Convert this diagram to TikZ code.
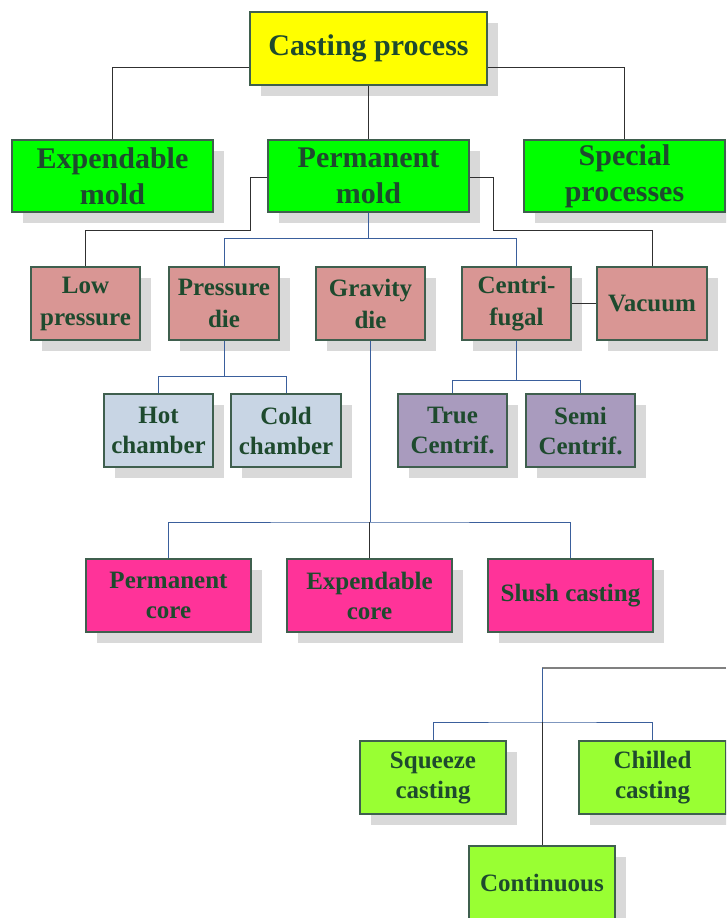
\documentclass[tikz,border=0pt]{standalone}
\usepackage{fontspec}
\setmainfont{Liberation Serif}
\usetikzlibrary{shadows}
\definecolor{txtgreen}{HTML}{1E4A2E}
\definecolor{bordc}{HTML}{3F5F4E}
\definecolor{shgray}{HTML}{D9D9D9}
\definecolor{cyel}{HTML}{FFFF00}
\definecolor{cgreen}{HTML}{00FF00}
\definecolor{csalmon}{HTML}{D99694}
\definecolor{cblue}{HTML}{C8D5E4}
\definecolor{cpurple}{HTML}{A99BBE}
\definecolor{cpink}{HTML}{FF3399}
\definecolor{clime}{HTML}{99FF33}
\definecolor{lblue}{HTML}{3A5F9C}
\definecolor{lblack}{HTML}{303030}
\tikzset{
  box/.style={draw=bordc, line width=1.1pt, inner sep=0pt, align=center,
    text=txtgreen,
    drop shadow={shadow xshift=11pt, shadow yshift=-11pt, fill=shgray, opacity=1}},
  bigbox/.style={box, font=\bfseries\fontsize{30}{36}\selectfont, minimum height=72pt},
  smallbox/.style={box, font=\bfseries\fontsize{25}{30}\selectfont, minimum height=73pt},
  midbox/.style={box, font=\bfseries\fontsize{25}{32}\selectfont, minimum height=73pt},
  blu/.style={draw=lblue, line width=0.9pt},
  blk/.style={draw=lblack, line width=0.9pt},
  gry/.style={draw=gray, line width=1.3pt}
}
\begin{document}
\begin{tikzpicture}[x=1pt, y=-1pt]
\useasboundingbox (0,0) rectangle (726,918);
\clip (0,0) rectangle (726,918);
% level 1
\node[bigbox, fill=cyel, minimum width=237pt, minimum height=73pt] (cast) at (368.5,48.5) {Casting process};
% level 2
\node[bigbox, fill=cgreen, minimum width=201pt] (exp) at (112.5,176) {Expendable\\mold};
\node[bigbox, fill=cgreen, minimum width=201pt] (perm) at (368.5,176) {Permanent\\mold};
\node[bigbox, fill=cgreen, minimum width=201pt] (spec) at (624.5,176) {Special\\processes};
% level 3
\node[midbox, fill=csalmon, minimum width=109pt] (low) at (85.5,303.5) {Low\\pressure};
\node[midbox, fill=csalmon, minimum width=110pt] (pdie) at (224,303.5) {Pressure\\die};
\node[midbox, fill=csalmon, minimum width=109pt] (gdie) at (370.5,303.5) {Gravity\\die};
\node[midbox, fill=csalmon, minimum width=109pt] (cent) at (516.5,303.5) {Centri-\\fugal};
\node[midbox, fill=csalmon, minimum width=110pt] (vac) at (652,303.5) {Vacuum};
% level 4
\node[smallbox, fill=cblue, minimum width=109pt] (hot) at (158.5,430.5) {Hot\\chamber};
\node[smallbox, fill=cblue, minimum width=110pt] (cold) at (286,430.5) {Cold\\chamber};
\node[smallbox, fill=cpurple, minimum width=109pt] (tru) at (452.5,430.5) {True\\Centrif.};
\node[smallbox, fill=cpurple, minimum width=109pt] (semi) at (580.5,430.5) {Semi\\Centrif.};
% level 5
\node[smallbox, fill=cpink, minimum width=165pt] (pcore) at (168.5,595.5) {Permanent\\core};
\node[smallbox, fill=cpink, minimum width=165pt] (ecore) at (369.5,595.5) {Expendable\\core};
\node[smallbox, fill=cpink, minimum width=165pt] (slush) at (570.5,595.5) {Slush casting};
% level 6
\node[smallbox, fill=clime, minimum width=146pt] (squeeze) at (433,777.5) {Squeeze\\casting};
\node[smallbox, fill=clime, minimum width=147pt] (chill) at (652.5,777.5) {Chilled\\casting};
\node[smallbox, fill=clime, minimum width=146pt] (cont) at (542,882.5) {Continuous};
% connectors
\draw[blk] (cast.west |- 0,67) -| (exp.north);
\draw[blk] (cast.east |- 0,67) -| (spec.north);
\draw[blk] (cast.south) -- (perm.north);
\draw[blk] (perm.west |- 0,177) -- (250,177) coordinate (pl) -- (pl |- 0,230) -| (low.north);
\draw[blk] (perm.east |- 0,177) -- (493,177) coordinate (pr) -- (pr |- 0,230) -| (vac.north);
\draw[blu] (perm.south) -- ++(0,26) coordinate (j1);
\draw[blu] (pdie.north) |- (j1) -| (cent.north);
\draw[blk] (cent.east) -- (vac.west);
\draw[blu] (pdie.south) -- ++(0,36) coordinate (j2);
\draw[blu] (hot.north) |- (j2) -| (cold.north);
\draw[blu] (cent.south) -- ++(0,40) coordinate (j3);
\draw[blu] (tru.north) |- (j3) -| (semi.north);
\draw[blu] (gdie.south) -- (gdie.south |- 0,522) coordinate (j4);
\draw[blu] (pcore.north) |- (j4) -| (slush.north);
\draw[blk] (ecore.north) -- (ecore.north |- 0,522);
\coordinate (redge) at (726,668);
\draw[gry] (redge) -- (cont.north |- redge) coordinate (j5);
\draw[blu] (j5) -- (cont.north |- 0,722) coordinate (j6);
\draw[blu] (squeeze.north) |- (j6) -| (chill.north);
\draw[blk] (j6) -- (cont.north);
\end{tikzpicture}
\end{document}
